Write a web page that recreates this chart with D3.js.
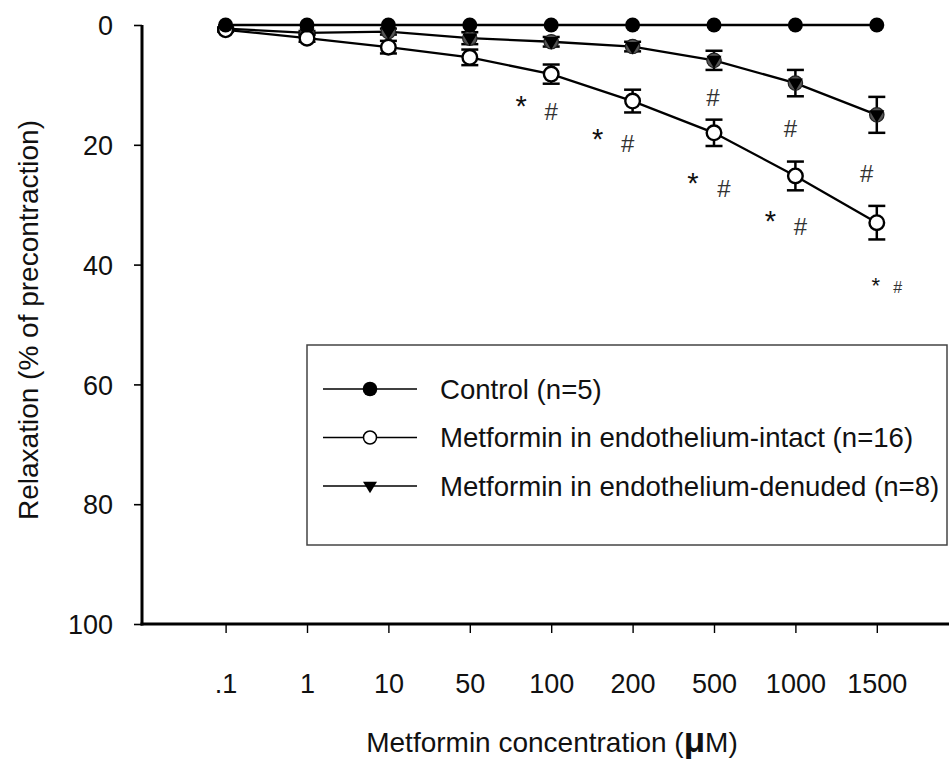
<!DOCTYPE html>
<html><head><meta charset="utf-8">
<script src="https://cdn.jsdelivr.net/npm/d3@7/dist/d3.min.js"></script>
<style>body{margin:0;background:#fff}</style>
</head><body>
<svg id="chart" width="949" height="776"></svg>
<script>
// ---------------- data ----------------
const categories = [".1","1","10","50","100","200","500","1000","1500"];
const controlMean = [0,0,0,0,0,0,0,0,0];
const intactMean  = [0.8,2.2,3.7,5.4,8.2,12.7,18.0,25.2,33.0];
const intactSEM   = [0.3,0.6,1.05,1.3,1.6,1.9,2.2,2.4,2.8];
const denudedMean = [0.6,1.3,1.1,2.2,2.8,3.6,5.9,9.7,15.0];
const denudedSEM  = [0.2,0.3,0.5,1.0,0.8,0.8,1.6,2.2,3.0];
const yTicks = [0,20,40,60,80,100];
const seriesNames = ["Control (n=5)","Metformin in endothelium-intact (n=16)","Metformin in endothelium-denuded (n=8)"];
const xTitle = "Metformin concentration (";
const yTitle = "Relaxation (% of precontraction)";
// significance marks: category, value (y units), symbol
const starCats   = ["100","200","500","1000","1500"];
const starVals   = [12.5,17.9,25.3,31.7,42.6];
const hashCats   = ["100","200","500","1000","1500","500","1000","1500"];
const hashVals   = [14.4,19.7,27.3,33.6,43.8,12.0,17.2,24.8];

// ---------------- layout ----------------
const svg = d3.select("#chart");
const W = 949, H = 776;
const x = d3.scalePoint().domain(categories).range([225.6, 876.8]);
const y = d3.scaleLinear().domain([0,100]).range([25, 624]);
const AX = 142, AY = 624;
const narrow = "'Liberation Sans Narrow', 'Arial Narrow', sans-serif";
const regular = "Arial, 'Liberation Sans', sans-serif";

// detect narrow font availability
let narrowScale = 1;
{
  const t1 = svg.append("text").attr("font-family","'Liberation Sans Narrow'").attr("font-size",100).text("Metformin 1000");
  const t2 = svg.append("text").attr("font-family","'Liberation Sans'").attr("font-size",100).text("Metformin 1000");
  const w1 = t1.node().getComputedTextLength(), w2 = t2.node().getComputedTextLength();
  t1.remove(); t2.remove();
  if (Math.abs(w1 - w2) < 1) narrowScale = 0.83;
}
function narrowText(sel, cx){
  if (narrowScale !== 1) sel.attr("transform", `translate(${cx},0) scale(${narrowScale},1) translate(${-cx},0)`);
}

// ---------------- axes ----------------
const yAxis = d3.axisLeft(y).tickValues(yTicks).tickSize(8).tickFormat(d3.format("d"));
const gy = svg.append("g").attr("transform",`translate(${AX},0)`).call(yAxis);
gy.select(".domain").remove();
gy.selectAll(".tick line").attr("stroke","#000").attr("stroke-width",1.6);
gy.selectAll(".tick text").attr("x",-29).attr("font-family",regular).attr("font-size",27).attr("fill","#111").attr("dy","0.36em");

const xAxis = d3.axisBottom(x).tickSize(9).tickFormat(d=>d);
const gx = svg.append("g").attr("transform",`translate(0,${AY})`).call(xAxis);
gx.select(".domain").remove();
gx.selectAll(".tick line").attr("stroke","#000").attr("stroke-width",1.4);
gx.selectAll(".tick text").attr("y",59).attr("dy","0.36em").attr("font-family",narrow).attr("font-size",27).attr("fill","#111")
  .each(function(){ narrowText(d3.select(this), 0); });

svg.append("line").attr("x1",AX).attr("x2",AX).attr("y1",y(0)).attr("y2",AY+1.5).attr("stroke","#000").attr("stroke-width",3);
svg.append("line").attr("x1",AX-1.5).attr("x2",W).attr("y1",AY).attr("y2",AY).attr("stroke","#000").attr("stroke-width",3);

// titles
const xtX = 552;
const xt = svg.append("text").attr("x",xtX).attr("y",742).attr("dy","0.36em").attr("text-anchor","middle")
  .attr("font-family",narrow).attr("font-size",28).attr("fill","#111");
xt.append("tspan").text(xTitle);
xt.append("tspan").attr("font-family",regular).attr("font-weight","bold").attr("font-size",35).text("\u03BC");
xt.append("tspan").text("M)");
narrowText(xt, xtX);

svg.append("text").attr("transform",`translate(28,320) rotate(-90)`).attr("text-anchor","middle").attr("dy","0.36em")
  .attr("font-family",regular).attr("font-size",28).attr("fill","#111").text(yTitle);

// ---------------- series ----------------
const series = [
  {mean:denudedMean, sem:denudedSEM, kind:"tri"},
  {mean:intactMean,  sem:intactSEM,  kind:"open"},
  {mean:controlMean, sem:null,       kind:"filled"}
];
const line = d3.line().x((d,i)=>x(categories[i])).y(d=>y(d));
series.forEach(s=>{
  svg.append("path").attr("d",line(s.mean)).attr("fill","none").attr("stroke","#000").attr("stroke-width",2.3);
});
const cap = 8.5;
series.forEach(s=>{
  if(!s.sem) return;
  const g = svg.append("g").attr("stroke","#000").attr("stroke-width",2.5);
  s.mean.forEach((m,i)=>{
    const cx = x(categories[i]), y1 = y(m - s.sem[i]), y2 = y(m + s.sem[i]);
    g.append("line").attr("x1",cx).attr("x2",cx).attr("y1",y1).attr("y2",y2);
    g.append("line").attr("x1",cx-cap).attr("x2",cx+cap).attr("y1",y1).attr("y2",y1);
    g.append("line").attr("x1",cx-cap).attr("x2",cx+cap).attr("y1",y2).attr("y2",y2);
  });
});
const triPath = r => `M${-r},${-r*0.62}L${r},${-r*0.62}L0,${r*1.05}Z`;
function marker(g, kind, cx, cy, big){
  if(kind==="filled") g.append("circle").attr("cx",cx).attr("cy",cy).attr("r",big?7.5:7.3).attr("fill","#000");
  else if(kind==="open") g.append("circle").attr("cx",cx).attr("cy",cy).attr("r",big?7.3:6.5).attr("fill","#fff").attr("stroke","#000").attr("stroke-width",big?2.4:1.5);
  else {
    if(big) g.append("circle").attr("cx",cx).attr("cy",cy).attr("r",7.2).attr("fill","#555").attr("stroke","#222").attr("stroke-width",1.2);
    g.append("path").attr("d",triPath(big?7.5:7)).attr("transform",`translate(${cx},${cy})`).attr("fill","#000");
  }
}
series.forEach(s=>{
  const g = svg.append("g");
  s.mean.forEach((m,i)=> marker(g, s.kind, x(categories[i]), y(m), true));
});

// ---------------- significance marks ----------------
const starDx = [-30,-35,-21,-25,-1];
const hashDx = [0,-5,10,5,21,-1,-5,-10];
starCats.forEach((c,i)=>{
  const last = i===starCats.length-1, fs = last?22:29;
  svg.append("text").attr("x",x(c)+starDx[i]).attr("y",y(starVals[i])+fs*0.57).attr("text-anchor","middle")
    .attr("font-family",regular).attr("font-size",fs).attr("fill","#111").text("*");
});
hashCats.forEach((c,i)=>{
  const small = i===4, fs = small?16:24;
  const t = svg.append("text").attr("x",x(c)+hashDx[i]).attr("y",y(hashVals[i])+fs*0.36).attr("text-anchor","middle")
    .attr("font-family",narrow).attr("font-size",fs).attr("fill","#333").text("#");
  narrowText(t, x(c)+hashDx[i]);
});

// ---------------- legend ----------------
const lg = svg.append("g");
lg.append("rect").attr("x",307).attr("y",345).attr("width",640).attr("height",200).attr("fill","none").attr("stroke","#444").attr("stroke-width",1.5);
const kinds = ["filled","open","tri"];
seriesNames.forEach((name,i)=>{
  const ly = 389 + i*48.5;
  lg.append("line").attr("x1",323).attr("x2",417).attr("y1",ly).attr("y2",ly).attr("stroke","#000").attr("stroke-width",1.6);
  marker(lg, kinds[i], 370, ly, false);
  const t = lg.append("text").attr("x",440).attr("y",ly).attr("dy","0.36em").attr("font-family",narrow).attr("font-size",27.6).attr("fill","#111").text(name);
  narrowText(t, 440);
});
</script>
</body></html>
